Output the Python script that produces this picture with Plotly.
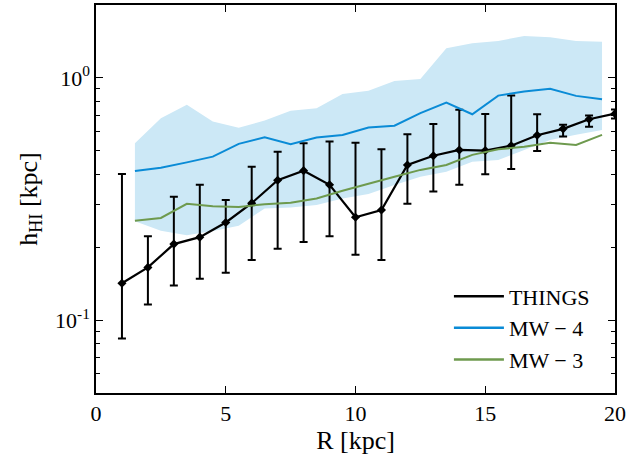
import plotly.graph_objects as go

# THINGS data
R_things = [1, 2, 3, 4, 5, 6, 7, 8, 9, 10, 11, 12, 13, 14, 15, 16, 17, 18, 19, 20]
h_things = [0.142, 0.165, 0.206, 0.220, 0.253, 0.304, 0.378, 0.414, 0.362, 0.266,
            0.285, 0.437, 0.477, 0.504, 0.501, 0.525, 0.580, 0.616, 0.675, 0.712]
h_things_hi = [0.401, 0.222, 0.323, 0.362, 0.313, 0.430, 0.496, 0.537, 0.546, 0.540,
               0.508, 0.585, 0.645, 0.738, 0.710, 0.845, 0.708, 0.640, 0.699, 0.740]
h_things_lo = [0.084, 0.116, 0.139, 0.148, 0.157, 0.177, 0.197, 0.210, 0.222, 0.186,
               0.177, 0.302, 0.340, 0.362, 0.400, 0.421, 0.499, 0.573, 0.629, 0.680]

# Simulation radii
R_sim = [1.5, 2.5, 3.5, 4.5, 5.5, 6.5, 7.5, 8.5, 9.5, 10.5,
         11.5, 12.5, 13.5, 14.5, 15.5, 16.5, 17.5, 18.5, 19.5]
h_mw4 = [0.413, 0.426, 0.448, 0.473, 0.534, 0.569, 0.532, 0.567, 0.581, 0.624,
         0.635, 0.715, 0.791, 0.708, 0.845, 0.878, 0.901, 0.843, 0.816]
h_mw4_hi = [0.537, 0.681, 0.774, 0.660, 0.623, 0.667, 0.731, 0.749, 0.859, 0.886,
            0.972, 0.990, 1.327, 1.391, 1.421, 1.491, 1.473, 1.421, 1.409]
h_mw4_lo = [0.256, 0.234, 0.224, 0.233, 0.245, 0.289, 0.292, 0.299, 0.318, 0.332,
            0.361, 0.391, 0.410, 0.451, 0.458, 0.505, 0.554, 0.582, 0.610]
h_mw3 = [0.257, 0.264, 0.302, 0.295, 0.293, 0.301, 0.305, 0.318, 0.342, 0.367,
         0.391, 0.417, 0.437, 0.481, 0.507, 0.520, 0.540, 0.529, 0.582]

BLUE = "#0a8bd6"
BAND = "#cce8f6"
GREEN = "#6e9a4e"
FONT = "Liberation Serif"

fig = go.Figure()

fig.add_trace(go.Scatter(x=R_sim, y=h_mw4_lo, mode="lines", line=dict(width=0),
                         showlegend=False, hoverinfo="skip"))
fig.add_trace(go.Scatter(x=R_sim, y=h_mw4_hi, mode="lines", line=dict(width=0),
                         fill="tonexty", fillcolor=BAND, showlegend=False, hoverinfo="skip"))

err_plus = [hi - v for hi, v in zip(h_things_hi, h_things)]
err_minus = [v - lo for v, lo in zip(h_things, h_things_lo)]

fig.add_trace(go.Scatter(
    x=R_things, y=h_things, mode="lines+markers", name="THINGS", showlegend=False,
    line=dict(color="black", width=2.2),
    marker=dict(symbol="diamond", size=7, color="black"),
    error_y=dict(type="data", symmetric=False, array=err_plus, arrayminus=err_minus,
                 color="black", thickness=2, width=4),
))
fig.add_trace(go.Scatter(x=R_sim, y=h_mw4, mode="lines", name="MW − 4", showlegend=False,
                         line=dict(color=BLUE, width=2)))
fig.add_trace(go.Scatter(x=R_sim, y=h_mw3, mode="lines", name="MW − 3", showlegend=False,
                         line=dict(color=GREEN, width=2)))

# legend entries (line only, like the reference)
for nm, col in [("THINGS", "black"), ("MW − 4", BLUE), ("MW − 3", GREEN)]:
    fig.add_trace(go.Scatter(x=[None], y=[None], mode="lines", name=nm,
                             line=dict(color=col, width=2.5)))

minor_vals = [m * 10 ** e for e in (-2, -1, 0) for m in range(2, 10)]

fig.update_layout(
    width=631, height=460,
    margin=dict(l=96, r=16, t=5, b=67),
    paper_bgcolor="white", plot_bgcolor="white",
    font=dict(family=FONT, size=22, color="black"),
    showlegend=True,
    legend=dict(x=0.68, y=0.303, xanchor="left", yanchor="top", traceorder="normal",
                bgcolor="rgba(0,0,0,0)", font=dict(size=22), tracegroupgap=0,
                itemwidth=50),
    xaxis=dict(
        range=[0, 20], tickvals=[0, 5, 10, 15, 20], ticks="inside", ticklen=7,
        tickwidth=1.2, tickcolor="black", showline=True, linecolor="black",
        linewidth=1.5, mirror="allticks", showgrid=False, zeroline=False,
        automargin=False,
        title=dict(text="R [kpc]", standoff=4),
    ),
    yaxis=dict(
        type="log", range=[-1.30103, 0.30103], tickvals=[0.1, 1],
        ticktext=["10<sup>-1</sup>", "10<sup>0</sup>"],
        ticks="inside", ticklen=7, tickwidth=1.2, tickcolor="black",
        showline=True, linecolor="black", linewidth=1.5, mirror="allticks",
        showgrid=False, zeroline=False, automargin=False,
        minor=dict(tickvals=minor_vals, ticks="inside", ticklen=4, tickwidth=1,
                   tickcolor="black", showgrid=False),
        title=dict(text="h<sub>HI</sub> [kpc]", standoff=10),
    ),
)

fig.write_html("out.html", config={"displayModeBar": False},
               post_script="document.body.style.margin='0';document.body.style.overflow='hidden';")
